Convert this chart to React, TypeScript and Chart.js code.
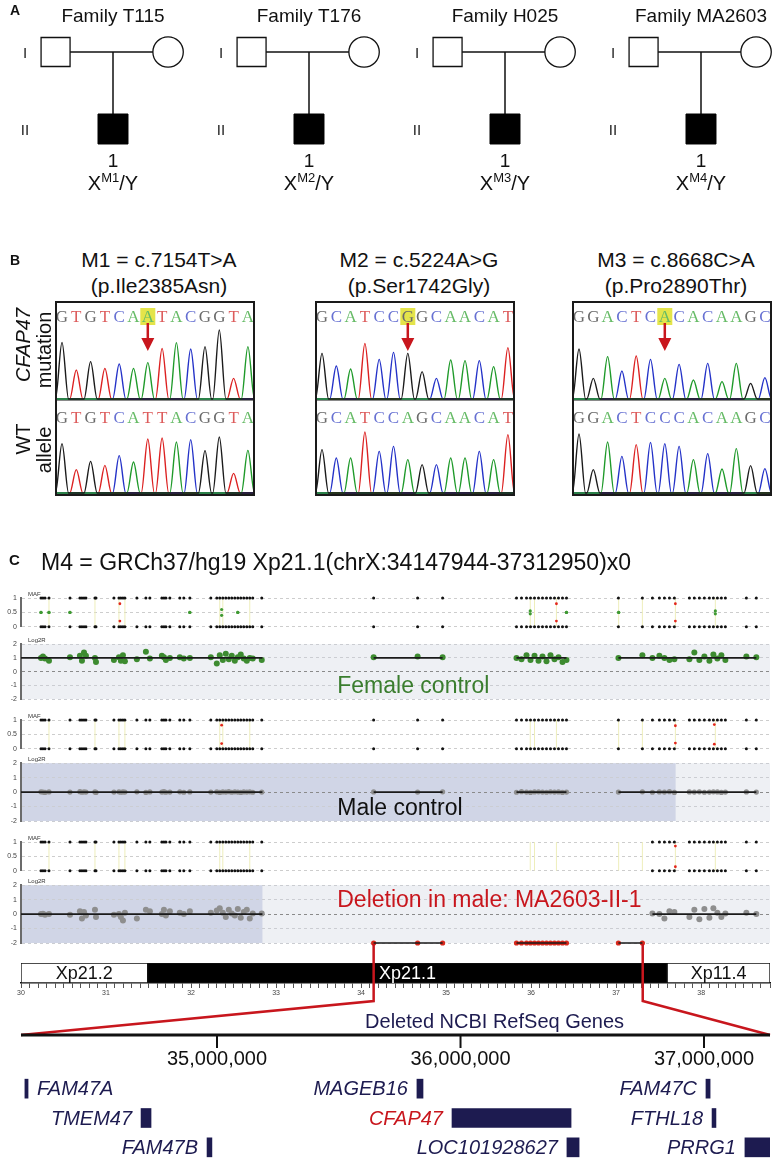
import React, { useEffect, useRef } from 'react';
import { Chart, registerables } from 'chart.js';

Chart.register(...registerables);

const FONT = "'Liberation Sans', Arial, Helvetica, sans-serif";
const SERIF = "'Liberation Serif', 'Times New Roman', serif";

// ================= Panel A data =================
const familyNames = ['Family T115', 'Family T176', 'Family H025', 'Family MA2603'];
const familyAlleles = ['M1', 'M2', 'M3', 'M4'];
const generationLabels = ['I', 'II'];
const probandLabel = '1';

// ================= Panel B data =================
const mutationNames = ['M1 = c.7154T>A', 'M2 = c.5224A>G', 'M3 = c.8668C>A'];
const proteinChanges = ['(p.Ile2385Asn)', '(p.Ser1742Gly)', '(p.Pro2890Thr)'];
const mutantSequences = ['GTGTCAATACGGTA', 'GCATCCGGCAACAT', 'GGACTCACACAAGC'];
const wildTypeSequences = ['GTGTCATTACGGTA', 'GCATCCAGCAACAT', 'GGACTCCCACAAGC'];
const variantPosition = [6, 6, 6];
const m1MutantPeaks = [170, 87, 112, 92, 105, 92, 109, 152, 169, 150, 157, 207, 62, 157];
const m1WildTypePeaks = [148, 70, 95, 83, 112, 93, 162, 165, 153, 160, 127, 168, 59, 128];
const m2MutantPeaks = [137, 99, 90, 167, 119, 140, 137, 82, 62, 117, 115, 115, 97, 154];
const m2WildTypePeaks = [130, 105, 105, 183, 125, 140, 100, 85, 85, 105, 105, 125, 100, 175];
const m3MutantPeaks = [150, 62, 127, 84, 129, 119, 62, 104, 57, 107, 52, 107, 47, 64];
const m3WildTypePeaks = [177, 70, 153, 110, 145, 152, 148, 140, 100, 118, 72, 133, 82, 73];
const mutantPeaks = [m1MutantPeaks, m2MutantPeaks, m3MutantPeaks];
const wildTypePeaks = [m1WildTypePeaks, m2WildTypePeaks, m3WildTypePeaks];

// ================= Panel C data (Mb on chrX) =================
const probesLeftMb = [30.235, 30.258, 30.282, 30.329, 30.576, 30.693, 30.717, 30.741, 30.764, 30.87, 30.882, 31.093, 31.152, 31.175, 31.199, 31.222, 31.363, 31.469, 31.516, 31.657, 31.681, 31.704, 31.751, 31.868, 31.915, 31.986, 32.233, 32.303, 32.338, 32.374, 32.409, 32.444, 32.479, 32.515, 32.55, 32.585, 32.62, 32.656, 32.691, 32.726, 32.832];
const probesMidMb = [34.148, 34.665, 34.959, 35.828, 35.887, 35.946, 35.993, 36.04, 36.087, 36.134, 36.181, 36.228, 36.275, 36.322, 36.369, 36.416];
const probesRightMb = [37.027, 37.309, 37.427, 37.509, 37.568, 37.627, 37.685, 37.862, 37.92, 37.979, 38.038, 38.097, 38.144, 38.191, 38.238, 38.285, 38.532, 38.649];

const femaleLeftLog2R = [1.0, 1.1, 0.95, 0.8, 1.05, 1.15, 0.8, 1.4, 1.15, 1.0, 0.7, 0.85, 1.05, 0.8, 1.2, 0.75, 0.9, 1.45, 0.95, 1.15, 1.05, 0.85, 1.0, 1.05, 0.95, 1.0, 1.05, 0.6, 1.2, 0.85, 1.3, 0.9, 1.15, 0.8, 1.05, 1.25, 0.95, 0.8, 1.0, 0.95, 0.85];
const femaleMidLog2R = [1.05, 1.1, 1.05, 1.0, 0.9, 1.2, 0.85, 1.15, 0.8, 1.1, 0.75, 1.2, 0.9, 1.05, 0.7, 0.85];
const femaleRightLog2R = [1.0, 1.2, 1.0, 1.15, 1.0, 0.85, 0.9, 0.9, 1.4, 0.85, 1.1, 0.8, 1.25, 0.95, 1.2, 0.85, 1.1, 1.05];

const maleLeftLog2R = [0.02, 0, -0.02, 0.01, 0, 0.03, -0.01, 0.02, 0, 0.01, -0.02, 0, 0.02, -0.01, 0.01, 0, 0.02, -0.02, 0.01, 0, 0.03, -0.01, 0, 0.02, -0.01, 0.01, 0, 0.02, -0.02, 0.01, 0, 0.03, -0.01, 0.02, 0, -0.02, 0.01, 0, 0.02, -0.01, 0];
const maleMidLog2R = [0.01, 0, 0.02, -0.01, 0.03, 0, -0.02, 0.01, 0.02, 0, -0.01, 0.02, 0, 0.01, -0.02, 0];
const maleRightLog2R = [0, 0.02, -0.01, 0.01, 0, 0.03, -0.02, 0.01, 0, 0.02, -0.01, 0, 0.02, 0.01, -0.02, 0, 0.01, 0];

const deletionLeftLog2R = [0.0, 0.02, -0.05, 0.0, -0.05, 0.2, -0.3, 0.15, -0.1, 0.3, -0.2, -0.05, 0.0, -0.2, -0.45, 0.1, -0.3, 0.3, 0.2, 0.0, 0.3, -0.1, 0.2, 0.1, 0.0, 0.2, 0.1, 0.25, 0.4, 0.1, -0.2, 0.3, 0.05, -0.1, 0.35, -0.25, 0.15, 0.3, -0.3, 0.05, 0.05];
const deletionMidLog2R = [-2, -2, -2, -2, -2, -2, -2, -2, -2, -2, -2, -2, -2, -2, -2, -2];
const deletionRightLog2R = [-2, -2, 0.05, 0.0, -0.3, 0.2, 0.15, -0.2, 0.3, -0.35, 0.35, -0.25, 0.4, 0.1, -0.2, 0.05, 0.1, 0.0];

const femaleHetMb = [30.235, 30.329, 30.576, 31.986, 32.36, 32.55, 35.99, 36.416, 37.03, 38.167];
const femaleHetBaf = [0.5, 0.5, 0.5, 0.5, 0.4, 0.5, 0.45, 0.5, 0.5, 0.45];
const femaleOddMb = [31.163, 36.298, 37.697];
const femaleOddBaf = [0.2, 0.2, 0.2];
const maleOddMb = [32.36, 37.697, 38.155];
const maleOddBaf = [0.18, 0.2, 0.16];
const deletionOddMb = [37.697];
const deletionOddBaf = [0.14];
const mafLinkMb = [30.329, 30.87, 31.152, 31.222, 32.338, 32.374, 32.691, 35.99, 36.04, 36.298, 37.03, 37.309, 37.697, 38.167];

const femaleSegStart = [30, 34.148, 35.828, 37.027];
const femaleSegEnd = [32.84, 34.959, 36.416, 38.649];
const femaleSegLevel = [1, 1, 1, 1];
const maleSegStart = [30, 34.148, 35.828, 37.027];
const maleSegEnd = [32.84, 34.959, 36.416, 38.649];
const maleSegLevel = [0, 0, 0, 0];
const deletionSegStart = [30, 34.148, 35.828, 37.027, 37.427];
const deletionSegEnd = [32.84, 34.959, 36.416, 37.309, 38.649];
const deletionSegLevel = [0, -2, -2, -2, 0];

const maleCallRegion = [30, 37.7];
const deletionCallRegion = [30, 32.84];

const deletionStartBp = 34147944;
const deletionEndBp = 37312950;

const bandNames = ['Xp21.2', 'Xp21.1', 'Xp11.4'];
const bandStartMb = [30, 31.49, 37.6];
const bandEndMb = [31.49, 37.6, 38.81];
const bandStain = ['gneg', 'gpos100', 'gneg'];

const geneNames = ['FAM47A', 'TMEM47', 'FAM47B', 'MAGEB16', 'CFAP47', 'LOC101928627', 'FAM47C', 'FTHL18', 'PRRG1'];
const geneStartBp = [34211000, 34688000, 34959000, 35821000, 35965000, 36437000, 37008000, 37033000, 37168000];
const geneEndBp = [34224000, 34729000, 34979000, 35846000, 36454000, 36487000, 37025000, 37049000, 37271000];
const geneRow = [1, 2, 3, 1, 2, 3, 1, 2, 3];
const geneRowLabels = ['1', '2', '3'];
const geneTicksBp = [35000000, 36000000, 37000000];
const highlightedGene = 'CFAP47';
const labelRightOfBar = ['FAM47A'];

// ================= helpers =================
const X_MIN = 30;
const X_MAX = 38.81;
const ZOOM_MIN = 34195000;
const ZOOM_MAX = 37271000;
const RED = '#c8161d';
const NAVY = '#1d1b50';

const allProbesMb = [...probesLeftMb, ...probesMidMb, ...probesRightMb];
const inDeletion = (mb: number) => mb * 1e6 >= deletionStartBp && mb * 1e6 <= deletionEndBp;

const baseOptions = () => ({
  animation: false as const,
  responsive: false,
  events: [] as any[],
  plugins: { legend: { display: false }, tooltip: { enabled: false }, title: { display: false } },
});

const pad = (top: number, right: number, bottom: number, left: number) => ({
  autoPadding: false,
  padding: { top, right, bottom, left },
});

function ChartCanvas({ x, y, w, h, config }: { x: number; y: number; w: number; h: number; config: () => any }) {
  const ref = useRef<HTMLCanvasElement>(null);
  useEffect(() => {
    const chart = new Chart(ref.current as HTMLCanvasElement, config());
    return () => chart.destroy();
  }, []);
  return (
    <canvas
      ref={ref}
      width={w}
      height={h}
      style={{ position: 'absolute', left: x, top: y, width: w, height: h }}
    />
  );
}

function Txt(props: {
  x: number; y: number; size: number; children: any; weight?: number; italic?: boolean;
  color?: string; align?: 'left' | 'center' | 'right'; rotate?: number;
}) {
  const { x, y, size, children, weight = 400, italic = false, color = '#111', align = 'center', rotate = 0 } = props;
  const tx = align === 'center' ? -50 : align === 'right' ? -100 : 0;
  return (
    <div
      style={{
        position: 'absolute', left: x, top: y, fontSize: size, fontWeight: weight,
        fontStyle: italic ? 'italic' : 'normal', color, lineHeight: 1, whiteSpace: 'nowrap',
        fontFamily: FONT,
        transform: `translate(${tx}%, -50%)${rotate ? ` rotate(${rotate}deg)` : ''}`,
      }}
    >
      {children}
    </div>
  );
}

// ================= Panel A: pedigrees =================
const FATHER_DX = -0.293;
const MOTHER_DX = 0.281;

function pedigreeConfig() {
  const xMin = -113 / 196;
  const yMin = 1 - 52 / 77;
  const line = (pts: any[]) => ({
    type: 'line', data: pts, borderColor: '#111', borderWidth: 1.5, pointRadius: 0, order: 5, clip: false,
  });
  const datasets: any[] = [];
  familyNames.forEach((_, i) => {
    datasets.push(line([{ x: i + FATHER_DX, y: 1 }, { x: i + MOTHER_DX, y: 1 }]));
    datasets.push(line([{ x: i, y: 1 }, { x: i, y: 2 }]));
  });
  datasets.push({
    type: 'scatter', data: familyNames.map((_, i) => ({ x: i + FATHER_DX, y: 1 })), pointStyle: 'rect',
    pointRadius: 20.5, backgroundColor: '#fff', borderColor: '#111', borderWidth: 1.3, order: 1, clip: false,
  });
  datasets.push({
    type: 'scatter', data: familyNames.map((_, i) => ({ x: i + MOTHER_DX, y: 1 })), pointStyle: 'circle',
    pointRadius: 15.2, backgroundColor: '#fff', borderColor: '#111', borderWidth: 1.3, order: 1, clip: false,
  });
  datasets.push({
    type: 'scatter', data: familyNames.map((_, i) => ({ x: i, y: 2 })), pointStyle: 'rect',
    pointRadius: 21.2, backgroundColor: '#000', borderColor: '#000', borderWidth: 1, order: 1, clip: false,
  });
  const textPlugin = {
    id: 'pedText',
    afterDraw(chart: any) {
      const { ctx, scales } = chart;
      const xs = scales.x, ys = scales.y;
      ctx.save();
      familyNames.forEach((name, i) => {
        const cx = xs.getPixelForValue(i);
        ctx.textAlign = 'center';
        ctx.textBaseline = 'alphabetic';
        ctx.fillStyle = '#111';
        ctx.font = `19px ${FONT}`;
        ctx.fillText(name, cx, ys.getPixelForValue(1) - 30.5);
        ctx.font = `15px ${FONT}`;
        ctx.fillStyle = '#222';
        generationLabels.forEach((g, k) => ctx.fillText(g, cx - 88, ys.getPixelForValue(k + 1) + 6));
        ctx.fillStyle = '#111';
        ctx.font = `19px ${FONT}`;
        ctx.fillText(probandLabel, cx, ys.getPixelForValue(2) + 37.5);
        const big = `20px ${FONT}`;
        const small = `13px ${FONT}`;
        ctx.font = big;
        const wX = ctx.measureText('X').width;
        const wY = ctx.measureText('/Y').width;
        ctx.font = small;
        const wS = ctx.measureText(familyAlleles[i]).width;
        let sx = cx - (wX + wS + wY) / 2;
        const by = ys.getPixelForValue(2) + 61;
        ctx.textAlign = 'left';
        ctx.font = big;
        ctx.fillText('X', sx, by);
        sx += wX;
        ctx.font = small;
        ctx.fillText(familyAlleles[i], sx, by - 8);
        sx += wS;
        ctx.font = big;
        ctx.fillText('/Y', sx, by);
      });
      ctx.restore();
    },
  };
  return {
    type: 'scatter',
    data: { datasets },
    options: {
      ...baseOptions(),
      layout: pad(0, 0, 0, 0),
      scales: {
        x: { type: 'linear', min: xMin, max: xMin + 778 / 196, display: false },
        y: { type: 'linear', min: yMin, max: yMin + 200 / 77, reverse: true, display: false },
      },
    },
    plugins: [textPlugin],
  };
}

// ================= Panel B: chromatograms =================
const TRACE_X_MIN = -0.35;
const TRACE_PX_PER_BASE = 14.3;
const PEAK_HALF_WIDTH = 0.46;
const BASE_ORDER = ['G', 'A', 'C', 'T'];
const TRACE_COLOR: Record<string, string> = { G: '#1b1b1b', A: '#1f9a2a', C: '#2432c8', T: '#dc2121' };
const LETTER_COLOR: Record<string, string> = { G: '#6a6a6a', A: '#66bb66', C: '#6670d2', T: '#dd5c5c' };

function traceConfig(seq: string, peaks: number[], w: number, yMax: number, letterY: number, variant: number | null) {
  const xMax = TRACE_X_MIN + w / TRACE_PX_PER_BASE;
  const datasets = BASE_ORDER.map((b) => {
    const pts: any[] = [{ x: TRACE_X_MIN, y: 0 }];
    for (let i = 0; i < seq.length; i++) {
      if (seq[i] === b) {
        pts.push({ x: i - PEAK_HALF_WIDTH, y: 0 }, { x: i, y: peaks[i] }, { x: i + PEAK_HALF_WIDTH, y: 0 });
      }
    }
    pts.push({ x: xMax, y: 0 });
    return {
      type: 'line', data: pts, borderColor: TRACE_COLOR[b], borderWidth: 1.4, pointRadius: 0,
      cubicInterpolationMode: 'monotone', fill: false, clip: false,
    };
  });
  const letters = {
    id: 'letters',
    afterDatasetsDraw(chart: any) {
      const { ctx, chartArea: a, scales } = chart;
      const xs = scales.x;
      ctx.save();
      if (variant !== null) {
        const vx = xs.getPixelForValue(variant);
        ctx.fillStyle = '#e4e44a';
        ctx.fillRect(vx - 7.5, a.top + letterY - 9, 15, 17);
      }
      ctx.font = `17px ${SERIF}`;
      ctx.textAlign = 'center';
      ctx.textBaseline = 'middle';
      for (let i = 0; i < seq.length; i++) {
        ctx.fillStyle = LETTER_COLOR[seq[i]];
        ctx.fillText(seq[i], xs.getPixelForValue(i), a.top + letterY + 1);
      }
      if (variant !== null) {
        const vx = xs.getPixelForValue(variant);
        ctx.strokeStyle = RED;
        ctx.fillStyle = RED;
        ctx.lineWidth = 2.5;
        ctx.beginPath();
        ctx.moveTo(vx, a.top + 20);
        ctx.lineTo(vx, a.top + 37);
        ctx.stroke();
        ctx.beginPath();
        ctx.moveTo(vx - 6.5, a.top + 35);
        ctx.lineTo(vx + 6.5, a.top + 35);
        ctx.lineTo(vx, a.top + 48);
        ctx.closePath();
        ctx.fill();
      }
      ctx.restore();
    },
  };
  return {
    type: 'scatter',
    data: { datasets },
    options: {
      ...baseOptions(),
      layout: pad(0, 0, 0, 0),
      scales: {
        x: { type: 'linear', min: TRACE_X_MIN, max: xMax, display: false },
        y: { type: 'linear', min: -3, max: yMax, display: false },
      },
    },
    plugins: [letters],
  };
}

// ================= Panel C: tracks =================
type Sample = {
  log2r: number[]; segStart: number[]; segEnd: number[]; segLevel: number[];
  pointColor: string; pointRadius: number; deletion: boolean;
  hetMb: number[]; hetBaf: number[]; oddMb: number[]; oddBaf: number[];
  shade: number[] | null; label: string; labelColor: string; labelLevel: number;
};

const samples: Sample[] = [
  {
    log2r: [...femaleLeftLog2R, ...femaleMidLog2R, ...femaleRightLog2R],
    segStart: femaleSegStart, segEnd: femaleSegEnd, segLevel: femaleSegLevel,
    pointColor: '#3d8b30', pointRadius: 3, deletion: false,
    hetMb: femaleHetMb, hetBaf: femaleHetBaf, oddMb: femaleOddMb, oddBaf: femaleOddBaf,
    shade: null, label: 'Female control', labelColor: '#3a7d2e', labelLevel: -1.1,
  },
  {
    log2r: [...maleLeftLog2R, ...maleMidLog2R, ...maleRightLog2R],
    segStart: maleSegStart, segEnd: maleSegEnd, segLevel: maleSegLevel,
    pointColor: '#8e8e8e', pointRadius: 2.6, deletion: false,
    hetMb: [], hetBaf: [], oddMb: maleOddMb, oddBaf: maleOddBaf,
    shade: maleCallRegion, label: 'Male control', labelColor: '#111', labelLevel: -1.15,
  },
  {
    log2r: [...deletionLeftLog2R, ...deletionMidLog2R, ...deletionRightLog2R],
    segStart: deletionSegStart, segEnd: deletionSegEnd, segLevel: deletionSegLevel,
    pointColor: '#8e8e8e', pointRadius: 3, deletion: true,
    hetMb: [], hetBaf: [], oddMb: deletionOddMb, oddBaf: deletionOddBaf,
    shade: deletionCallRegion, label: 'Deletion in male: MA2603-II-1', labelColor: RED, labelLevel: 0.95,
  },
];

const trackX = () => ({ type: 'linear', min: X_MIN, max: X_MAX, display: false });

const trackTag = (text: string) => ({
  id: 'trackTag',
  afterDraw(chart: any) {
    const { ctx, chartArea: a } = chart;
    ctx.save();
    ctx.font = `6px ${FONT}`;
    ctx.fillStyle = '#333';
    ctx.textAlign = 'left';
    ctx.textBaseline = 'middle';
    ctx.fillText(text, a.left + 7, a.top - 4);
    ctx.restore();
  },
});

function mafConfig(s: Sample) {
  const probes = allProbesMb.filter((m) => !(s.deletion && inDeletion(m)));
  const hom = probes.flatMap((m) => [{ x: m, y: 1 }, { x: m, y: 0 }]);
  const het = s.hetMb.flatMap((m, i) => [{ x: m, y: s.hetBaf[i] }, { x: m, y: 1 - s.hetBaf[i] }]);
  const odd = s.oddMb.flatMap((m, i) => [{ x: m, y: s.oddBaf[i] }, { x: m, y: 1 - s.oddBaf[i] }]);
  const links = mafLinkMb.flatMap((m) => [{ x: m, y: 0 }, { x: m, y: 1 }, { x: m, y: null }]);
  return {
    type: 'scatter',
    data: {
      datasets: [
        { type: 'line', data: links, borderColor: '#eeeebb', borderWidth: 1, pointRadius: 0, spanGaps: false, order: 4 },
        { data: hom, backgroundColor: '#111', borderWidth: 0, pointRadius: 1.5, clip: false, order: 3 },
        { data: het, backgroundColor: '#3f9a33', borderWidth: 0, pointRadius: 1.6, clip: false, order: 2 },
        { data: odd, backgroundColor: '#e2261b', borderWidth: 0, pointRadius: 1.4, clip: false, order: 1 },
      ],
    },
    options: {
      ...baseOptions(),
      layout: pad(10, 8, 6, 0),
      scales: {
        x: trackX(),
        y: {
          type: 'linear', min: 0, max: 1,
          afterFit: (sc: any) => { sc.width = 21; },
          ticks: {
            stepSize: 0.5, font: { size: 7, family: FONT }, color: '#444', padding: 4,
            callback: (v: number) => String(v),
          },
          grid: { color: '#cdcdcd', drawTicks: false, lineWidth: 1 },
          border: { display: true, color: '#6b6b6b', width: 2, dash: [3, 3] },
        },
      },
    },
    plugins: [trackTag('MAF')],
  };
}

function logConfig(s: Sample) {
  const pts = allProbesMb.map((m, i) => ({ x: m, y: s.log2r[i] }));
  const colors = allProbesMb.map((m) => (s.deletion && inDeletion(m) ? '#d8281c' : s.pointColor));
  const radii = allProbesMb.map((m) => (s.deletion && inDeletion(m) ? 2.6 : s.pointRadius));
  const seg = s.segStart.flatMap((a, i) => [
    { x: a, y: s.segLevel[i] }, { x: s.segEnd[i], y: s.segLevel[i] }, { x: s.segEnd[i], y: null },
  ]);
  const background = {
    id: 'logBg',
    beforeDraw(chart: any) {
      const { ctx, chartArea: a, scales } = chart;
      ctx.save();
      ctx.fillStyle = '#eef0f4';
      ctx.fillRect(a.left, a.top, a.right - a.left, a.bottom - a.top);
      if (s.shade) {
        const x0 = scales.x.getPixelForValue(s.shade[0]);
        const x1 = scales.x.getPixelForValue(s.shade[1]);
        ctx.fillStyle = '#d0d5e6';
        ctx.fillRect(x0, a.top, x1 - x0, a.bottom - a.top);
      }
      ctx.restore();
    },
  };
  const label = {
    id: 'sampleLabel',
    afterDatasetsDraw(chart: any) {
      const { ctx, scales } = chart;
      ctx.save();
      ctx.font = `23px ${FONT}`;
      ctx.fillStyle = s.labelColor;
      ctx.textAlign = 'left';
      ctx.textBaseline = 'middle';
      ctx.fillText(s.label, scales.x.getPixelForValue(33.72), scales.y.getPixelForValue(s.labelLevel));
      ctx.restore();
    },
  };
  return {
    type: 'scatter',
    data: {
      datasets: [
        { type: 'line', data: seg, borderColor: '#1a1a1a', borderWidth: 1.6, pointRadius: 0, spanGaps: false, order: 0, clip: false },
        { data: pts, pointBackgroundColor: colors, pointRadius: radii, borderWidth: 0, pointBorderWidth: 0, clip: false, order: 1 },
      ],
    },
    options: {
      ...baseOptions(),
      layout: pad(8, 8, 9, 0),
      scales: {
        x: trackX(),
        y: {
          type: 'linear', min: -2, max: 2,
          afterFit: (sc: any) => { sc.width = 21; },
          ticks: { stepSize: 1, font: { size: 7, family: FONT }, color: '#444', padding: 4 },
          grid: {
            color: (c: any) => (c.tick && c.tick.value === 0 ? '#8a8a8a' : '#cbcdd2'),
            drawTicks: false, lineWidth: 1,
          },
          border: { display: true, color: '#6b6b6b', width: 2, dash: [3, 3] },
        },
      },
    },
    plugins: [background, label, trackTag('Log2R')],
  };
}

function ideogramConfig() {
  const bandLabels = {
    id: 'bandLabels',
    afterDatasetsDraw(chart: any) {
      const { ctx, chartArea: a, scales } = chart;
      ctx.save();
      ctx.font = `18px ${FONT}`;
      ctx.textAlign = 'center';
      ctx.textBaseline = 'middle';
      bandNames.forEach((n, i) => {
        ctx.fillStyle = bandStain[i] === 'gpos100' ? '#fff' : '#111';
        ctx.fillText(n, scales.x.getPixelForValue((bandStartMb[i] + bandEndMb[i]) / 2), (a.top + a.bottom) / 2 + 1);
      });
      ctx.restore();
    },
  };
  return {
    type: 'bar',
    data: {
      labels: ['chrX'],
      datasets: bandNames.map((n, i) => ({
        label: n,
        data: [[bandStartMb[i], bandEndMb[i]]],
        backgroundColor: bandStain[i] === 'gpos100' ? '#000' : '#fff',
        borderColor: '#111', borderWidth: 1, borderSkipped: false,
        barPercentage: 1, categoryPercentage: 1, grouped: false,
      })),
    },
    options: {
      ...baseOptions(),
      indexAxis: 'y',
      layout: pad(8, 8, 0, 21),
      scales: {
        x: {
          type: 'linear', min: X_MIN, max: X_MAX,
          afterFit: (sc: any) => { sc.height = 20; },
          ticks: {
            stepSize: 0.1, autoSkip: false, maxRotation: 0, minRotation: 0, padding: 1,
            font: { size: 7, family: FONT }, color: '#444',
            callback: (v: number) => (Math.abs(v - Math.round(v)) < 1e-6 ? String(Math.round(v)) : ''),
          },
          grid: { drawOnChartArea: false, drawTicks: true, tickLength: 5, color: '#555', lineWidth: 1 },
          border: { display: true, color: '#111', width: 1.5 },
        },
        y: { type: 'category', display: false },
      },
    },
    plugins: [bandLabels],
  };
}

function geneConfig() {
  const overlay = {
    id: 'geneOverlay',
    afterDatasetsDraw(chart: any) {
      const { ctx, chartArea: a, scales } = chart;
      const xs = scales.x, xg = scales.xg, ys = scales.y;
      const rulerY = a.top - 39;
      ctx.save();
      // zoom connectors
      ctx.strokeStyle = RED;
      ctx.lineWidth = 2.5;
      ctx.lineJoin = 'miter';
      const topY = 9, kneeY = 66;
      const xl = xg.getPixelForValue(deletionStartBp / 1e6);
      const xr = xg.getPixelForValue(deletionEndBp / 1e6);
      ctx.beginPath();
      ctx.moveTo(xl, topY); ctx.lineTo(xl, kneeY); ctx.lineTo(a.left, rulerY);
      ctx.moveTo(xr, topY); ctx.lineTo(xr, kneeY); ctx.lineTo(a.right, rulerY);
      ctx.stroke();
      // ruler
      ctx.strokeStyle = '#111';
      ctx.lineWidth = 3;
      ctx.beginPath();
      ctx.moveTo(a.left, rulerY); ctx.lineTo(a.right, rulerY);
      ctx.stroke();
      ctx.lineWidth = 2;
      ctx.fillStyle = '#111';
      ctx.font = `20px ${FONT}`;
      ctx.textAlign = 'center';
      ctx.textBaseline = 'middle';
      geneTicksBp.forEach((t) => {
        const px = xs.getPixelForValue(t);
        ctx.beginPath();
        ctx.moveTo(px, rulerY); ctx.lineTo(px, rulerY + 13);
        ctx.stroke();
        ctx.fillText(t.toLocaleString('en-US'), px, rulerY + 24);
      });
      ctx.fillStyle = NAVY;
      ctx.fillText('Deleted NCBI RefSeq Genes', xs.getPixelForValue(36140000), rulerY - 13);
      // gene labels
      ctx.font = `italic 20px ${FONT}`;
      geneNames.forEach((g, i) => {
        const y = ys.getPixelForValue(geneRowLabels.indexOf(String(geneRow[i]))) + 1;
        ctx.fillStyle = g === highlightedGene ? RED : NAVY;
        if (labelRightOfBar.includes(g)) {
          ctx.textAlign = 'left';
          ctx.fillText(g, xs.getPixelForValue(geneEndBp[i]) + 9, y);
        } else {
          ctx.textAlign = 'right';
          ctx.fillText(g, xs.getPixelForValue(geneStartBp[i]) - 9, y);
        }
      });
      ctx.restore();
    },
  };
  return {
    type: 'bar',
    data: {
      labels: geneRowLabels,
      datasets: [{
        data: geneNames.map((g, i) => ({ x: [geneStartBp[i], geneEndBp[i]], y: String(geneRow[i]) })),
        backgroundColor: NAVY, borderWidth: 0, barThickness: 19, grouped: false,
      }],
    },
    options: {
      ...baseOptions(),
      indexAxis: 'y',
      layout: pad(139, 8, 0, 21),
      scales: {
        x: { type: 'linear', min: ZOOM_MIN, max: ZOOM_MAX, display: false },
        xg: { type: 'linear', axis: 'x', min: X_MIN, max: X_MAX, display: false },
        y: { type: 'category', display: false },
      },
    },
    plugins: [overlay],
  };
}

// ================= App =================
const boxLeft = [55, 315, 572];
const trackTops = [
  { maf: 588, log: 636 },
  { maf: 710, log: 755 },
  { maf: 832, log: 877 },
];
const logHeights = [72, 75, 75];

export default function App() {
  return (
    <div
      style={{
        position: 'absolute', left: 0, top: 0, width: 778, height: 1162, background: '#fff',
        overflow: 'hidden', fontFamily: FONT, color: '#111',
      }}
    >
      <ChartCanvas x={0} y={0} w={778} h={200} config={pedigreeConfig} />
      <Txt x={10} y={10} size={14} weight={700} align="left">A</Txt>

      <Txt x={10} y={260} size={14} weight={700} align="left">B</Txt>
      <Txt x={23} y={345} size={20} italic rotate={-90}>CFAP47</Txt>
      <Txt x={44} y={350} size={20} rotate={-90}>mutation</Txt>
      <Txt x={23} y={439} size={20} rotate={-90}>WT</Txt>
      <Txt x={44} y={450} size={20} rotate={-90}>allele</Txt>
      {mutationNames.map((t, k) => (
        <React.Fragment key={t}>
          <Txt x={boxLeft[k] + 104} y={259} size={21}>{t}</Txt>
          <Txt x={boxLeft[k] + 104} y={284.5} size={21}>{proteinChanges[k]}</Txt>
          <div
            style={{
              position: 'absolute', left: boxLeft[k], top: 301, width: 200, height: 195,
              border: '2px solid #1a1a1a', boxSizing: 'border-box',
            }}
          />
          <ChartCanvas
            x={boxLeft[k] + 2} y={303} w={196} h={97}
            config={() => traceConfig(mutantSequences[k], mutantPeaks[k], 196, 288, 14, variantPosition[k])}
          />
          <div style={{ position: 'absolute', left: boxLeft[k] + 2, top: 400, width: 196, height: 1, background: '#8a8a8a' }} />
          <ChartCanvas
            x={boxLeft[k] + 2} y={401} w={196} h={93}
            config={() => traceConfig(wildTypeSequences[k], wildTypePeaks[k], 196, 276, 17, null)}
          />
        </React.Fragment>
      ))}

      <Txt x={9} y={559} size={15} weight={700} align="left">C</Txt>
      <Txt x={41} y={561.5} size={23} align="left">M4 = GRCh37/hg19 Xp21.1(chrX:34147944-37312950)x0</Txt>
      {samples.map((s, k) => (
        <React.Fragment key={s.label}>
          <ChartCanvas x={0} y={trackTops[k].maf} w={778} h={47} config={() => mafConfig(s)} />
          <ChartCanvas x={0} y={trackTops[k].log} w={778} h={logHeights[k]} config={() => logConfig(s)} />
        </React.Fragment>
      ))}
      <ChartCanvas x={0} y={955} w={778} h={48} config={ideogramConfig} />
      <ChartCanvas x={0} y={935} w={778} h={227} config={geneConfig} />
    </div>
  );
}
